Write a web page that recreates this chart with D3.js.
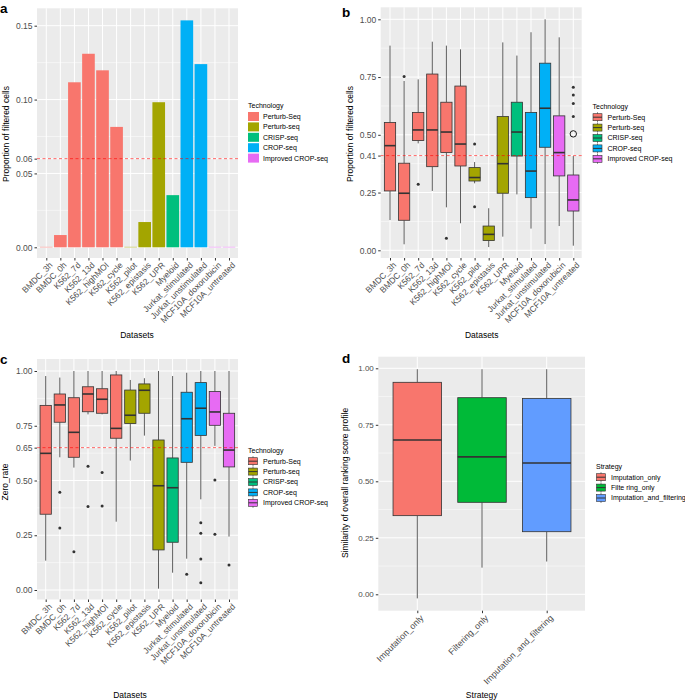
<!DOCTYPE html>
<html>
<head>
<meta charset="utf-8">
<script src="https://cdn.jsdelivr.net/npm/d3@7"></script>
<style>
  body { margin: 0; background: #fff; }
  text { font-family: "Liberation Sans", Arial, Helvetica, sans-serif; }
</style>
</head>
<body>
<svg id="fig" width="685" height="700"></svg>
<script>
// ---- data ----
const datasets = ["BMDC_3h", "BMDC_0h", "K562_7d", "K562_13d", "K562_highMOI", "K562_cycle",
  "K562_pilot", "K562_epistasis", "K562_UPR", "Myeloid", "Jurkat_stimulated",
  "Jurkat_unstimulated", "MCF10A_doxorubicin", "MCF10A_untreated"];
const datasetTech = ["Perturb-Seq", "Perturb-Seq", "Perturb-Seq", "Perturb-Seq", "Perturb-Seq", "Perturb-Seq",
  "Perturb-seq", "Perturb-seq", "Perturb-seq", "CRISP-seq", "CROP-seq", "CROP-seq",
  "Improved CROP-seq", "Improved CROP-seq"];
const technologies = ["Perturb-Seq", "Perturb-seq", "CRISP-seq", "CROP-seq", "Improved CROP-seq"];
const techColors = ["#F8766D", "#A3A500", "#00BF7D", "#00B0F6", "#E76BF3"];

// panel a: proportion of filtered cells per dataset
const filteredProportion = [0.0003, 0.0083, 0.1117, 0.131, 0.1198, 0.0815, 0.0003,
  0.0171, 0.0982, 0.0353, 0.1536, 0.124, 0.0003, 0.0003];
const filteredCut = 0.06;
const aTicks = [0, 0.05, 0.06, 0.10, 0.15];

// panel b: boxplots [lower whisker, Q1, median, Q3, upper whisker]
const filteredBoxes = [
  [0.131, 0.257, 0.453, 0.553, 0.886],
  [0.026, 0.130, 0.247, 0.377, 0.733],
  [0.463, 0.475, 0.521, 0.597, 0.740],
  [0.257, 0.362, 0.521, 0.763, 0.903],
  [0.186, 0.423, 0.512, 0.641, 0.886],
  [0.117, 0.365, 0.460, 0.711, 0.870],
  [0.290, 0.300, 0.315, 0.358, 0.382],
  [0.014, 0.042, 0.069, 0.105, 0.182],
  [0.059, 0.247, 0.375, 0.579, 0.900],
  [0.242, 0.408, 0.512, 0.641, 0.843],
  [0.094, 0.228, 0.343, 0.597, 0.944],
  [0.027, 0.446, 0.615, 0.810, 1.000],
  [0.105, 0.322, 0.423, 0.582, 0.922],
  [0.020, 0.170, 0.218, 0.326, 0.408]
];
const filteredOutliers = [[], [0.752], [0.286], [], [0.052], [], [0.460, 0.189], [], [], [], [], [], [],
  [0.706, 0.672, 0.635, 0.579]];
const filteredOpenPoint = {dataset: "MCF10A_untreated", value: 0.504};
const filteredBoxCut = 0.41;
const bTicks = [0, 0.25, 0.41, 0.50, 0.75, 1.00];

// panel c: zero rate boxplots
const zeroRateBoxes = [
  [0.134, 0.346, 0.624, 0.843, 0.977],
  [0.606, 0.766, 0.845, 0.895, 0.970],
  [0.559, 0.606, 0.720, 0.878, 1.000],
  [0.802, 0.814, 0.895, 0.928, 1.000],
  [0.802, 0.807, 0.871, 0.919, 1.000],
  [0.312, 0.693, 0.738, 0.982, 1.000],
  [0.591, 0.760, 0.798, 0.913, 0.959],
  [0.705, 0.807, 0.912, 0.941, 0.967],
  [0.006, 0.183, 0.476, 0.685, 1.000],
  [0.079, 0.218, 0.467, 0.603, 0.977],
  [0.143, 0.583, 0.782, 0.903, 0.992],
  [0.414, 0.706, 0.830, 0.947, 1.000],
  [0.658, 0.752, 0.813, 0.906, 1.000],
  [0.244, 0.562, 0.639, 0.807, 1.000]
];
const zeroRateOutliers = [[], [0.446, 0.283], [0.175], [0.565, 0.381], [0.536, 0.384], [], [], [], [], [],
  [0.072], [0.307, 0.259, 0.142, 0.033], [0.502, 0.254], [0.114]];
const zeroRateCut = 0.65;
const cTicks = [0, 0.25, 0.50, 0.65, 0.75, 1.00];

// panel d: similarity by strategy
const strategies = ["Imputation_only", "Filtering_only", "Imputation_and_filtering"];
const strategyLegend = ["Imputation_only", "Filte ring_only", "Imputation_and_filtering"];
const strategyColors = ["#F8766D", "#00BA38", "#619CFF"];
const similarityBoxes = [
  [-0.018, 0.348, 0.683, 0.938, 0.996],
  [0.118, 0.407, 0.608, 0.870, 0.996],
  [0.145, 0.277, 0.581, 0.866, 0.996]
];
const dTicks = [0, 0.25, 0.50, 0.75, 1.00];
const quarterMinor = [0.125, 0.375, 0.625, 0.875];

const svg = d3.select("#fig");
const techColor = d3.scaleOrdinal().domain(technologies).range(techColors);
const fmt = d3.format(".2f");
const ink = "#333333";
const tickInk = "#4D4D4D";

// grey panel, white grid, axes, titles
function frame(p) {
  const g = svg.append("g");
  g.append("rect")
    .attr("x", p.x0).attr("y", p.y0)
    .attr("width", p.x1 - p.x0).attr("height", p.y1 - p.y0)
    .attr("fill", "#EBEBEB");
  g.selectAll(null).data(p.minor).join("line")
    .attr("x1", p.x0).attr("x2", p.x1)
    .attr("y1", d => p.y(d)).attr("y2", d => p.y(d))
    .attr("stroke", "#fff").attr("stroke-width", 0.5);
  g.selectAll(null).data(p.ticks).join("line")
    .attr("x1", p.x0).attr("x2", p.x1)
    .attr("y1", d => p.y(d)).attr("y2", d => p.y(d))
    .attr("stroke", "#fff").attr("stroke-width", 1);
  g.selectAll(null).data(p.x.domain()).join("line")
    .attr("x1", d => p.x(d)).attr("x2", d => p.x(d))
    .attr("y1", p.y0).attr("y2", p.y1)
    .attr("stroke", "#fff").attr("stroke-width", 1);

  // y axis
  const ya = g.append("g")
    .attr("transform", `translate(${p.x0},0)`)
    .call(d3.axisLeft(p.y).tickValues(p.ticks).tickSize(2.5).tickPadding(2).tickFormat(fmt));
  ya.select(".domain").remove();
  ya.selectAll("line").attr("stroke", ink);
  ya.selectAll("text").attr("fill", tickInk).attr("font-size", p.fs)
    .attr("font-family", "Liberation Sans, Arial, sans-serif");

  // x axis, labels at 45 degrees
  const xa = g.append("g")
    .attr("transform", `translate(0,${p.y1})`)
    .call(d3.axisBottom(p.x).tickSize(2.5));
  xa.select(".domain").remove();
  xa.selectAll("line").attr("stroke", ink);
  xa.selectAll("text")
    .attr("fill", tickInk).attr("font-size", p.xfs || p.fs)
    .attr("font-family", "Liberation Sans, Arial, sans-serif")
    .attr("text-anchor", "end")
    .attr("x", -1).attr("y", 7).attr("dy", "0.35em")
    .attr("transform", "rotate(-45)");

  // titles
  svg.append("text")
    .attr("transform", `translate(${p.yTitleX},${p.yTitleY}) rotate(-90)`)
    .attr("text-anchor", "middle").attr("font-size", p.tfs || p.fs).attr("fill", "#000")
    .text(p.yTitle);
  svg.append("text")
    .attr("x", p.xTitleX).attr("y", p.xTitleY)
    .attr("text-anchor", "middle").attr("font-size", p.tfs || p.fs).attr("fill", "#000")
    .text(p.xTitle);
  svg.append("text")
    .attr("x", p.labelX).attr("y", p.labelY)
    .attr("font-size", 13.5).attr("font-weight", "bold").attr("fill", "#000")
    .text(p.label);
  return g;
}

function cutLine(g, p, v) {
  g.append("line")
    .attr("x1", p.x0).attr("x2", p.x1)
    .attr("y1", p.y(v)).attr("y2", p.y(v))
    .attr("stroke", "#FF0000").attr("stroke-opacity", 0.6)
    .attr("stroke-width", 1).attr("stroke-dasharray", "3,2.5");
}

function boxes(g, p, cats, stats, outliers, colorOf, widthFrac) {
  const w = p.x.step() * widthFrac;
  const rows = cats.map((c, i) => ({c, s: stats[i], o: outliers ? outliers[i] : [], fill: colorOf(c, i)}));
  const bg = g.selectAll(null).data(rows).join("g");
  bg.append("line")
    .attr("x1", d => p.x(d.c)).attr("x2", d => p.x(d.c))
    .attr("y1", d => p.y(d.s[0])).attr("y2", d => p.y(d.s[1]))
    .attr("stroke", ink).attr("stroke-width", 0.8);
  bg.append("line")
    .attr("x1", d => p.x(d.c)).attr("x2", d => p.x(d.c))
    .attr("y1", d => p.y(d.s[3])).attr("y2", d => p.y(d.s[4]))
    .attr("stroke", ink).attr("stroke-width", 0.8);
  bg.append("rect")
    .attr("x", d => p.x(d.c) - w / 2).attr("width", w)
    .attr("y", d => p.y(d.s[3])).attr("height", d => p.y(d.s[1]) - p.y(d.s[3]))
    .attr("fill", d => d.fill).attr("stroke", ink).attr("stroke-width", 0.8);
  bg.append("line")
    .attr("x1", d => p.x(d.c) - w / 2).attr("x2", d => p.x(d.c) + w / 2)
    .attr("y1", d => p.y(d.s[2])).attr("y2", d => p.y(d.s[2]))
    .attr("stroke", ink).attr("stroke-width", 1.6);
  bg.selectAll("circle").data(d => d.o.map(v => ({c: d.c, v}))).join("circle")
    .attr("cx", d => p.x(d.c)).attr("cy", d => p.y(d.v)).attr("r", 1.5)
    .attr("fill", ink);
}

function legend(x, y, title, labels, colors, glyph) {
  const g = svg.append("g").attr("transform", `translate(${x},${y})`);
  g.append("text").attr("x", 0).attr("y", 0).attr("dy", "0.35em")
    .attr("font-size", 7).attr("fill", "#000").text(title);
  const row = g.selectAll(null).data(labels).join("g")
    .attr("transform", (d, i) => `translate(0,${10.5 + i * 10.4})`);
  if (glyph === "box") {
    row.append("line").attr("x1", 5).attr("x2", 5).attr("y1", -5).attr("y2", 5)
      .attr("stroke", ink).attr("stroke-width", 0.6);
    row.append("rect").attr("x", 0.5).attr("y", -3.5).attr("width", 9).attr("height", 7)
      .attr("fill", (d, i) => colors[i]).attr("stroke", ink).attr("stroke-width", 0.6);
    row.append("line").attr("x1", 0.5).attr("x2", 9.5).attr("y1", 0).attr("y2", 0)
      .attr("stroke", ink).attr("stroke-width", 1);
  } else {
    row.append("rect").attr("x", 0).attr("y", -4.5).attr("width", 11).attr("height", 9)
      .attr("fill", (d, i) => colors[i]);
  }
  row.append("text").attr("x", 15).attr("y", 0).attr("dy", "0.35em")
    .attr("font-size", 7).attr("fill", "#000").text(d => d);
}

// ---- panel a ----
const pa = {
  x0: 37, x1: 238, y0: 8.3, y1: 258,
  x: d3.scalePoint().domain(datasets).range([46.3, 229]),
  y: d3.scaleLinear().domain([0, 0.15]).range([247.3, 25.7]),
  ticks: aTicks, minor: [0.025, 0.075, 0.125], fs: 8.5,
  yTitle: "Proportion of filtered cells", yTitleX: 8.5, yTitleY: 134,
  xTitle: "Datasets", xTitleX: 137, xTitleY: 338,
  label: "a", labelX: 0, labelY: 12.5
};
const ga = frame(pa);
const barW = pa.x.step() * 0.9;
ga.selectAll(null).data(datasets).join("rect")
  .attr("x", d => pa.x(d) - barW / 2).attr("width", barW)
  .attr("y", (d, i) => pa.y(filteredProportion[i]))
  .attr("height", (d, i) => pa.y(0) - pa.y(filteredProportion[i]))
  .attr("fill", (d, i) => techColor(datasetTech[i]));
cutLine(ga, pa, filteredCut);
legend(248, 106, "Technology", technologies, techColors, "square");

// ---- panel b ----
const pb = {
  x0: 380.7, x1: 581.7, y0: 7.3, y1: 258,
  x: d3.scalePoint().domain(datasets).range([390, 573.3]),
  y: d3.scaleLinear().domain([0, 1]).range([250.3, 19.3]),
  ticks: bTicks, minor: quarterMinor, fs: 8.5,
  yTitle: "Proportion of filtered cells", yTitleX: 352.5, yTitleY: 134,
  xTitle: "Datasets", xTitleX: 481.7, xTitleY: 338,
  label: "b", labelX: 342, labelY: 17
};
const gb = frame(pb);
boxes(gb, pb, datasets, filteredBoxes, filteredOutliers, (c, i) => techColor(datasetTech[i]), 0.8);
gb.append("circle")
  .attr("cx", pb.x(filteredOpenPoint.dataset)).attr("cy", pb.y(filteredOpenPoint.value))
  .attr("r", 3.2).attr("fill", "none").attr("stroke", "#000").attr("stroke-width", 0.9);
cutLine(gb, pb, filteredBoxCut);
legend(592.5, 106.7, "Technology", technologies, techColors, "box");

// ---- panel c ----
const pc = {
  x0: 37, x1: 238, y0: 359, y1: 599.5,
  x: d3.scalePoint().domain(datasets).range([45.7, 229]),
  y: d3.scaleLinear().domain([0, 1]).range([590, 371]),
  ticks: cTicks, minor: quarterMinor, fs: 8.5,
  yTitle: "Zero_rate", yTitleX: 7.5, yTitleY: 482,
  xTitle: "Datasets", xTitleX: 130, xTitleY: 698,
  label: "c", labelX: 0, labelY: 363.5
};
const gc = frame(pc);
boxes(gc, pc, datasets, zeroRateBoxes, zeroRateOutliers, (c, i) => techColor(datasetTech[i]), 0.8);
cutLine(gc, pc, zeroRateCut);
legend(248, 450.7, "Technology", technologies, techColors, "box");

// ---- panel d ----
const pd = {
  x0: 378.3, x1: 585, y0: 356.7, y1: 610.7,
  x: d3.scalePoint().domain(strategies).range([417.3, 546.7]),
  y: d3.scaleLinear().domain([0, 1]).range([594.3, 368.3]),
  ticks: dTicks, minor: quarterMinor, fs: 8, xfs: 8.8, tfs: 8.5,
  yTitle: "Similarity of  overall ranking score profile", yTitleX: 347.5, yTitleY: 483,
  xTitle: "Strategy", xTitleX: 481.7, xTitleY: 698,
  label: "d", labelX: 342, labelY: 363.3
};
const gd = frame(pd);
boxes(gd, pd, strategies, similarityBoxes, null, (c, i) => strategyColors[i], 0.75);
legend(596, 466.7, "Strategy", strategyLegend, strategyColors, "box");
</script>
</body>
</html>
